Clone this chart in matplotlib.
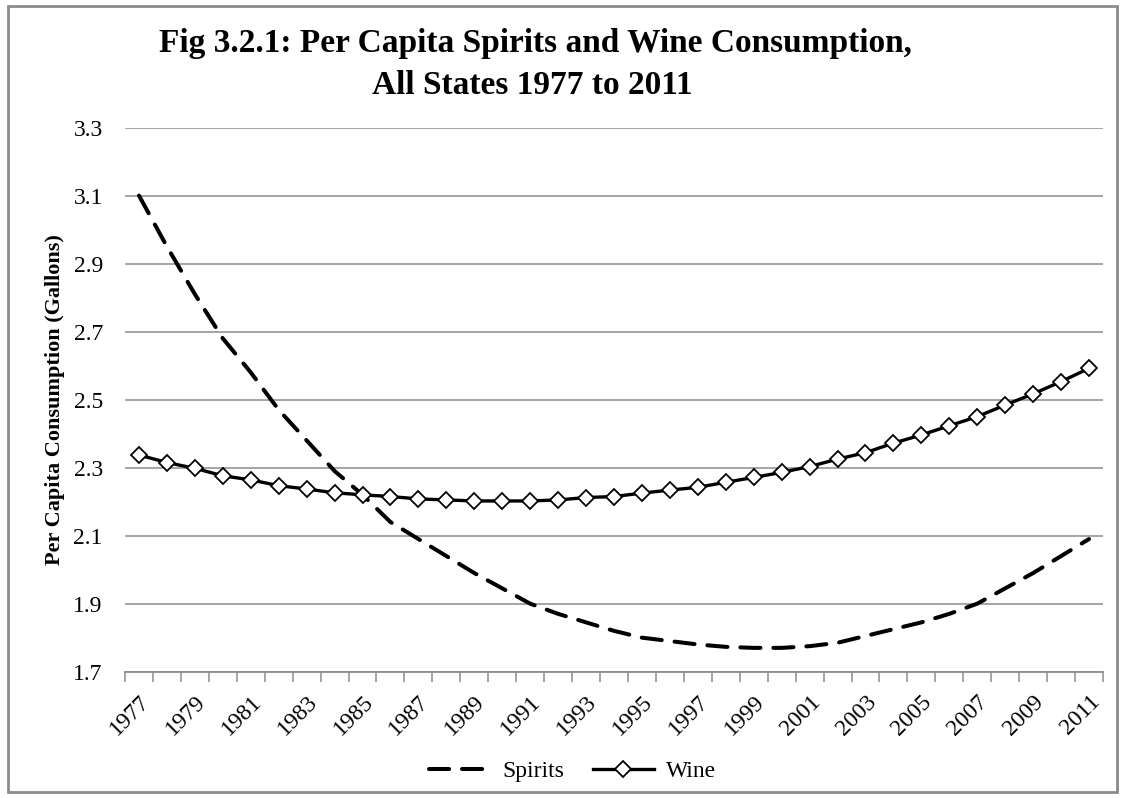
import numpy as np
import matplotlib
matplotlib.use("Agg")
import matplotlib.pyplot as plt
from matplotlib.patches import Rectangle

plt.rcParams['font.family'] = ['Liberation Serif', 'DejaVu Serif']

years = list(range(1977, 2012))

spirits = [3.10, 2.95, 2.81, 2.68, 2.58, 2.47, 2.38, 2.29, 2.22, 2.14,
           2.09, 2.04, 1.99, 1.945, 1.90, 1.87, 1.845, 1.82, 1.80, 1.79,
           1.78, 1.773, 1.77, 1.77, 1.775, 1.785, 1.805, 1.825, 1.845, 1.87,
           1.90, 1.945, 1.99, 2.04, 2.09]

wine = [2.337, 2.315, 2.298, 2.276, 2.264, 2.247, 2.237, 2.226, 2.220, 2.215,
        2.208, 2.205, 2.202, 2.202, 2.202, 2.205, 2.212, 2.215, 2.225, 2.234,
        2.242, 2.257, 2.271, 2.286, 2.303, 2.325, 2.344, 2.372, 2.396, 2.423,
        2.45, 2.484, 2.517, 2.553, 2.592]

y_ticks = [1.7, 1.9, 2.1, 2.3, 2.5, 2.7, 2.9, 3.1, 3.3]
grid_col = '#8c8c8c'

fig = plt.figure(figsize=(11.23, 7.98), dpi=100)
ax = fig.add_axes([0.1113, 0.1583, 0.8709, 0.6819])

x = np.arange(len(years))
ax.plot(x, spirits, color='black', lw=2.9, ls=(0, (5, 3.2)), label='Spirits',
        dash_capstyle='round')
ax.plot(x, wine, color='black', lw=2.4, marker='D', markersize=8.5,
        markerfacecolor='white', markeredgecolor='black', markeredgewidth=1.3,
        label='Wine')

ax.set_xlim(-0.5, len(years) - 0.5)
ax.set_ylim(1.7, 3.3)
ax.set_yticks(y_ticks)
ax.set_yticklabels([f"{v:.1f}" for v in y_ticks], fontsize=17)
ax.yaxis.grid(True, color=grid_col, lw=1.1)
ax.set_axisbelow(True)
ax.tick_params(axis='y', length=0, pad=16)

# category axis: tick marks between categories, labels every other year
ax.set_xticks(np.arange(-0.5, len(years), 1.0), minor=True)
ax.set_xticks(x[::2])
ax.set_xticklabels([str(y) for y in years[::2]], rotation=45, ha='right',
                   va='top', rotation_mode='anchor', fontsize=17)
ax.tick_params(axis='x', which='major', length=0, pad=14)
ax.tick_params(axis='x', which='minor', length=7, color=grid_col, width=1.1,
               direction='out')

for s in ['left', 'right', 'top']:
    ax.spines[s].set_visible(False)
ax.spines['bottom'].set_color(grid_col)
ax.spines['bottom'].set_linewidth(1.3)

ax.set_ylabel('Per Capita Consumption (Gallons)', fontsize=16,
              fontweight='bold', labelpad=6)

fig.text(0.477, 0.946, 'Fig 3.2.1: Per Capita Spirits and Wine Consumption,',
         ha='center', va='center', fontsize=24, fontweight='bold')
fig.text(0.474, 0.893, 'All States 1977 to 2011',
         ha='center', va='center', fontsize=24, fontweight='bold')

fig.legend(loc='center', bbox_to_anchor=(0.51, 0.033), ncol=2, frameon=False,
           fontsize=17, handlelength=2.6, columnspacing=1.2, handletextpad=0.5)

fig.patches.append(Rectangle((0.007, 0.007), 0.988, 0.985,
                             transform=fig.transFigure, fill=False,
                             edgecolor='#8c8c8c', lw=2))

fig.savefig('out.png', dpi=100)
